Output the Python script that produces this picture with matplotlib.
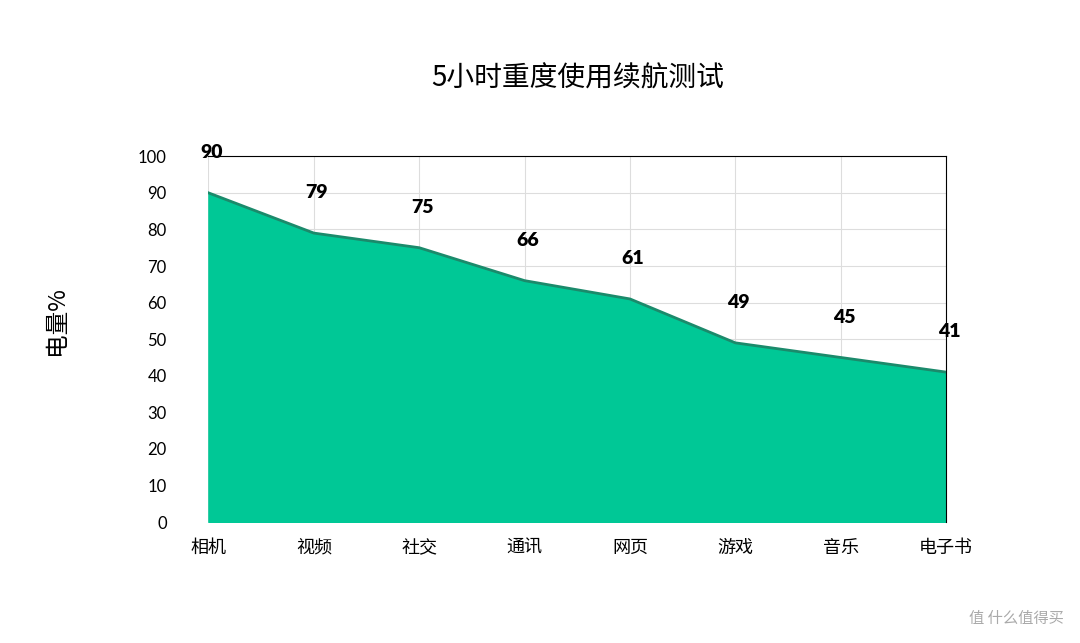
import matplotlib
matplotlib.use("Agg")
import matplotlib.pyplot as plt

categories = ["相机", "视频", "社交", "通讯", "网页", "游戏", "音乐", "电子书"]
values = [90, 79, 75, 66, 61, 49, 45, 41]
yticks = [0, 10, 20, 30, 40, 50, 60, 70, 80, 90, 100]

plt.rcParams['font.family'] = ['Noto Sans CJK SC', 'DejaVu Sans']
fig = plt.figure(figsize=(10.8, 6.43), dpi=100)
ax = fig.add_axes([0.193, 0.188, 0.683, 0.569])
x = list(range(len(categories)))
ax.fill_between(x, values, 0, color="#00C896", zorder=2)
ax.plot(x, values, color="#1b8a6b", lw=2, zorder=3)
for xi, v in zip(x, values):
    ax.text(xi + 0.03, v + 11, str(v), ha="center", va="center", fontsize=14,
            fontweight="heavy", family=["Lato", "DejaVu Sans"], zorder=4)
ax.set_xlim(0, len(categories) - 1)
ax.set_ylim(0, 100)
ax.set_yticks(yticks)
ax.set_xticks(x)
ax.set_xticklabels(categories, fontsize=13)
ax.set_yticklabels([str(t) for t in yticks], fontsize=12, family=["Lato", "DejaVu Sans"])
ax.grid(True, color="#dddddd", lw=0.8, zorder=0)
ax.set_axisbelow(True)
for s in ["left", "bottom"]:
    ax.spines[s].set_visible(False)
for s in ["top", "right"]:
    ax.spines[s].set_color("black")
ax.tick_params(axis="y", length=0, pad=30)
ax.tick_params(axis="x", length=0, pad=12)
ax.set_ylabel("电量%", fontsize=17)
ax.yaxis.set_label_coords(-0.19, 0.55)
fig.text(0.535, 0.878, "5小时重度使用续航测试", ha="center", va="center", fontsize=20)
fig.text(0.985, 0.025, "值 什么值得买", ha="right", va="bottom", fontsize=11, color="#aaaaaa")
fig.savefig("out.png", dpi=100, facecolor="white")
